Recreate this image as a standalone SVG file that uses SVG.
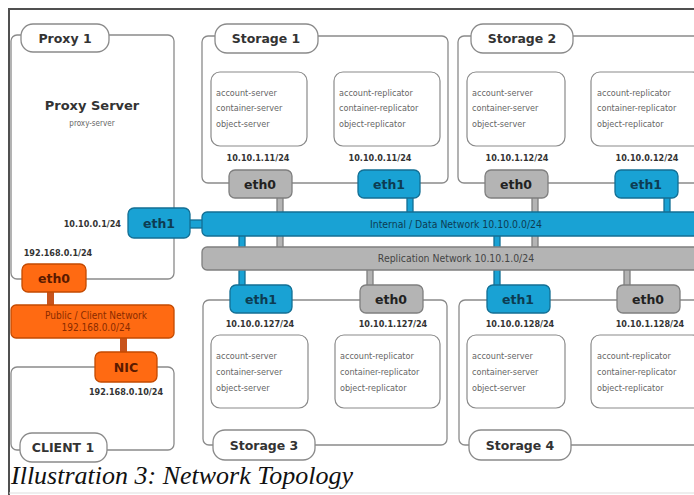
<svg xmlns="http://www.w3.org/2000/svg" width="694" height="495" viewBox="0 0 694 495">
<style>
.frame{fill:#fff;stroke:#8a8a8a;stroke-width:1.3}
.tab{fill:#fff;stroke:#8a8a8a;stroke-width:1.3}
.inner{fill:#fff;stroke:#8a8a8a;stroke-width:1.2}
.title{font-family:"DejaVu Sans",sans-serif;font-weight:bold;font-size:12.5px;fill:#333;text-anchor:middle}
.svc{font-family:"DejaVu Sans Condensed","DejaVu Sans",sans-serif;font-size:9px;fill:#666}
.ip{font-family:"DejaVu Sans Condensed","DejaVu Sans",sans-serif;font-weight:bold;font-size:9px;fill:#333;text-anchor:middle}
.nic{font-family:"DejaVu Sans",sans-serif;font-weight:bold;font-size:12.5px;text-anchor:middle}
.blue{fill:#19a2d4;stroke:#136f94;stroke-width:1.3}
.gray{fill:#b4b4b4;stroke:#7f7f7f;stroke-width:1.3}
.orange{fill:#ff6a12;stroke:#c44a00;stroke-width:1.3}
.netlbl{font-family:"DejaVu Sans Condensed","DejaVu Sans",sans-serif;font-size:10.4px;text-anchor:middle}
</style>
<rect x="0" y="0" width="694" height="495" fill="#fff"/>
<path d="M9 495 V9 H694" fill="none" stroke="#505050" stroke-width="2"/>
<line x1="9" y1="493" x2="694" y2="493" stroke="#ddd" stroke-width="1"/>

<g id="connectors">
<rect x="277" y="197" width="6" height="51" class="gray"/>
<rect x="532" y="197" width="6" height="51" class="gray"/>
<rect x="407" y="197" width="6" height="16" class="blue"/>
<rect x="664" y="197" width="6" height="16" class="blue"/>
<rect x="239" y="235" width="6" height="51" class="blue"/>
<rect x="494" y="235" width="6" height="51" class="blue"/>
<rect x="367" y="269" width="6" height="17" class="gray"/>
<rect x="624" y="269" width="6" height="17" class="gray"/>
<rect x="189" y="220" width="14" height="8" class="blue"/>
<rect x="47" y="291" width="7" height="15" fill="#c8541c"/>
<rect x="120" y="337" width="7" height="16" fill="#c8541c"/>
</g>

<g id="proxy1">
<rect x="11" y="35" width="163" height="244" rx="6" class="frame"/>
<rect x="21" y="24" width="88" height="28" rx="12" class="tab"/>
<text x="65" y="43" class="title">Proxy 1</text>
<text x="92" y="110" class="title" style="font-size:13px">Proxy Server</text>
<text x="92" y="126" class="svc" style="text-anchor:middle;font-size:8px">proxy-server</text>
<text x="121" y="227" class="ip" style="text-anchor:end">10.10.0.1/24</text>
<text x="58" y="256" class="ip">192.168.0.1/24</text>
</g>

<g id="proxy-eth1">
<rect x="128" y="208" width="62" height="30" rx="6" class="blue"/>
<text x="159" y="228" class="nic" fill="#0d3c52">eth1</text>
</g>
<g id="proxy-eth0">
<rect x="22" y="264" width="64" height="28" rx="6" class="orange"/>
<text x="54" y="283" class="nic" fill="#5a1a00">eth0</text>
</g>

<g id="public-network">
<rect x="11" y="305" width="163" height="33" rx="5" class="orange"/>
<text x="96" y="319" class="netlbl" fill="#8a2a00" style="font-size:10px">Public / Client Network</text>
<text x="96" y="331" class="netlbl" fill="#8a2a00" style="font-size:10px">192.168.0.0/24</text>
</g>

<g id="client1">
<rect x="11" y="367" width="163" height="83" rx="6" class="frame"/>
<rect x="20" y="433" width="87" height="29" rx="12" class="tab"/>
<text x="63" y="452" class="title">CLIENT 1</text>
<text x="126" y="395" class="ip">192.168.0.10/24</text>
</g>
<g id="client-nic">
<rect x="95" y="352" width="62" height="30" rx="6" class="orange"/>
<text x="126" y="372" class="nic" fill="#5a1a00">NIC</text>
</g>

<g id="internal-network">
<rect x="202" y="212" width="500" height="24" rx="5" class="blue"/>
<text x="456" y="228" class="netlbl" fill="#0d3c52">Internal / Data Network 10.10.0.0/24</text>
</g>
<g id="replication-network">
<rect x="202" y="247" width="500" height="23" rx="5" class="gray"/>
<text x="456" y="262" class="netlbl" fill="#444">Replication Network 10.10.1.0/24</text>
</g>

<g id="storage1">
<rect x="202" y="36" width="246" height="147" rx="6" class="frame"/>
<rect x="215" y="24" width="103" height="29" rx="12" class="tab"/>
<text x="266" y="43" class="title">Storage 1</text>
<rect x="211" y="72" width="96" height="74" rx="9" class="inner"/>
<text class="svc"><tspan x="216" y="96">account-server</tspan><tspan x="216" y="111">container-server</tspan><tspan x="216" y="127">object-server</tspan></text>
<rect x="334" y="72" width="106" height="74" rx="9" class="inner"/>
<text class="svc"><tspan x="339" y="96">account-replicator</tspan><tspan x="339" y="111">container-replicator</tspan><tspan x="339" y="127">object-replicator</tspan></text>
<text x="258" y="161" class="ip">10.10.1.11/24</text>
<text x="380" y="161" class="ip">10.10.0.11/24</text>
<rect x="229" y="170" width="63" height="28" rx="6" class="gray"/>
<text x="260" y="189" class="nic" fill="#222">eth0</text>
<rect x="358" y="170" width="62" height="28" rx="6" class="blue"/>
<text x="389" y="189" class="nic" fill="#0d3c52">eth1</text>
</g>

<g id="storage2">
<rect x="458" y="36" width="250" height="147" rx="6" class="frame"/>
<rect x="471" y="24" width="102" height="29" rx="12" class="tab"/>
<text x="522" y="43" class="title">Storage 2</text>
<rect x="467" y="72" width="98" height="74" rx="9" class="inner"/>
<text class="svc"><tspan x="472" y="96">account-server</tspan><tspan x="472" y="111">container-server</tspan><tspan x="472" y="127">object-server</tspan></text>
<rect x="591" y="72" width="110" height="74" rx="9" class="inner"/>
<text class="svc"><tspan x="597" y="96">account-replicator</tspan><tspan x="597" y="111">container-replicator</tspan><tspan x="597" y="127">object-replicator</tspan></text>
<text x="517" y="161" class="ip">10.10.1.12/24</text>
<text x="647" y="161" class="ip">10.10.0.12/24</text>
<rect x="485" y="170" width="63" height="28" rx="6" class="gray"/>
<text x="516" y="189" class="nic" fill="#222">eth0</text>
<rect x="615" y="170" width="63" height="28" rx="6" class="blue"/>
<text x="646" y="189" class="nic" fill="#0d3c52">eth1</text>
</g>

<g id="storage3">
<rect x="203" y="300" width="244" height="145" rx="6" class="frame"/>
<rect x="213" y="430" width="102" height="30" rx="12" class="tab"/>
<text x="264" y="450" class="title">Storage 3</text>
<rect x="211" y="335" width="97" height="73" rx="9" class="inner"/>
<text class="svc"><tspan x="216" y="359">account-server</tspan><tspan x="216" y="375">container-server</tspan><tspan x="216" y="391">object-server</tspan></text>
<rect x="335" y="335" width="105" height="73" rx="9" class="inner"/>
<text class="svc"><tspan x="340" y="359">account-replicator</tspan><tspan x="340" y="375">container-replicator</tspan><tspan x="340" y="391">object-replicator</tspan></text>
<text x="260" y="327" class="ip">10.10.0.127/24</text>
<text x="393" y="327" class="ip">10.10.1.127/24</text>
<rect x="230" y="285" width="62" height="28" rx="6" class="blue"/>
<text x="261" y="304" class="nic" fill="#0d3c52">eth1</text>
<rect x="360" y="285" width="63" height="28" rx="6" class="gray"/>
<text x="391" y="304" class="nic" fill="#222">eth0</text>
</g>

<g id="storage4">
<rect x="459" y="300" width="250" height="145" rx="6" class="frame"/>
<rect x="469" y="430" width="102" height="30" rx="12" class="tab"/>
<text x="520" y="450" class="title">Storage 4</text>
<rect x="467" y="335" width="98" height="73" rx="9" class="inner"/>
<text class="svc"><tspan x="472" y="359">account-server</tspan><tspan x="472" y="375">container-server</tspan><tspan x="472" y="391">object-server</tspan></text>
<rect x="591" y="335" width="110" height="73" rx="9" class="inner"/>
<text class="svc"><tspan x="597" y="359">account-replicator</tspan><tspan x="597" y="375">container-replicator</tspan><tspan x="597" y="391">object-replicator</tspan></text>
<text x="520" y="327" class="ip">10.10.0.128/24</text>
<text x="650" y="327" class="ip">10.10.1.128/24</text>
<rect x="487" y="285" width="63" height="28" rx="6" class="blue"/>
<text x="518" y="304" class="nic" fill="#0d3c52">eth1</text>
<rect x="617" y="285" width="63" height="28" rx="6" class="gray"/>
<text x="648" y="304" class="nic" fill="#222">eth0</text>
</g>

<text x="11" y="484" font-family="Liberation Serif, serif" font-style="italic" font-size="26" fill="#111">Illustration 3: Network Topology</text>
</svg>
